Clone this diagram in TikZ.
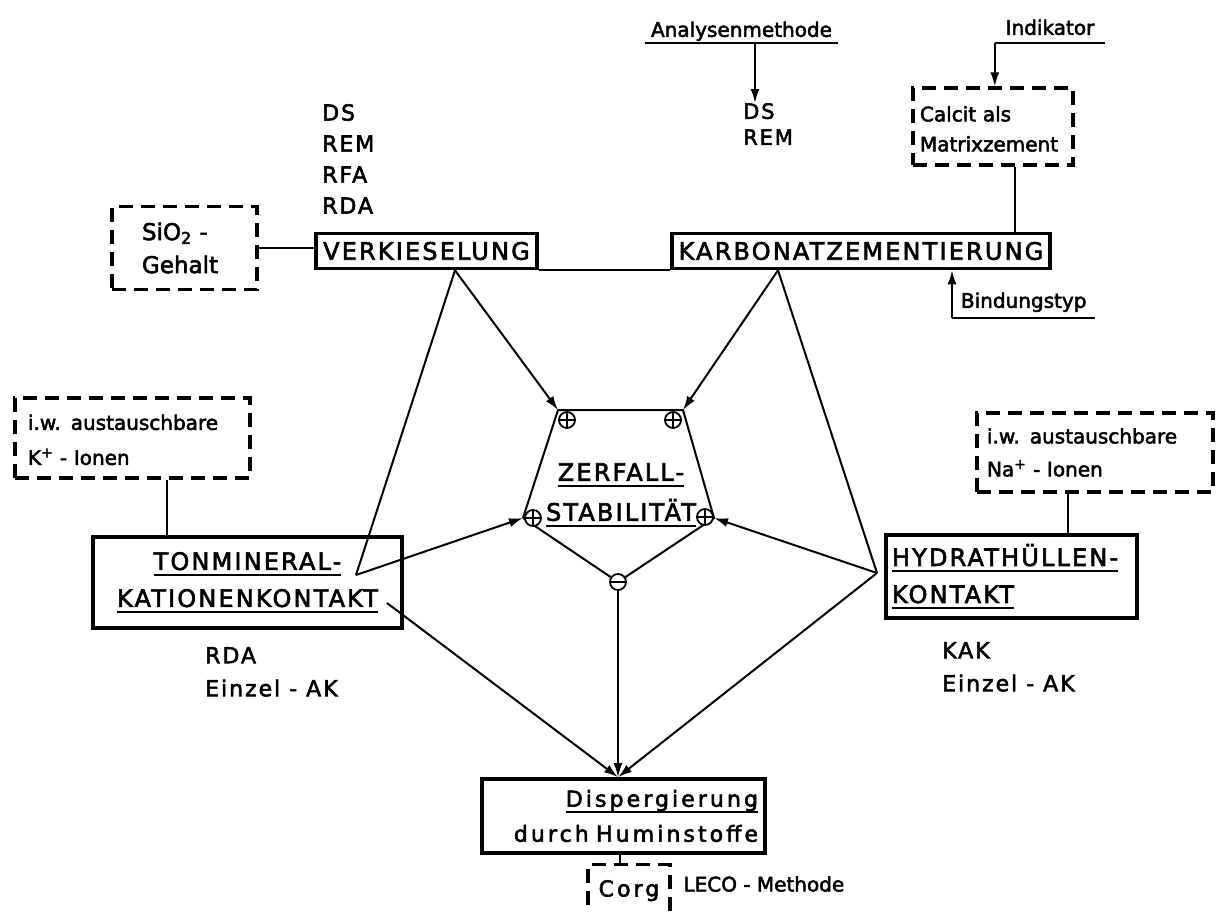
\documentclass[tikz,border=0pt]{standalone}
\usepackage{fontspec}
\usetikzlibrary{arrows.meta}
\newfontfamily\capf[LetterSpace=9,FakeBold=2.5]{DejaVu Sans}
\newfontfamily\lowf[FakeBold=2.5]{DejaVu Sans}
\newfontfamily\dispf[LetterSpace=14,FakeBold=2.5]{DejaVu Sans}
\newlength\myulw
\newcommand\myul[1]{\leavevmode\settowidth{\myulw}{#1}\rlap{#1}\rule[-6pt]{\myulw}{2pt}}
\begin{document}
\begin{tikzpicture}[x=1pt,y=-1pt,
  ln/.style={line width=2pt},
  arr/.style={line width=2pt,-{Latex[length=14pt,width=9pt]}},
  sbox/.style={draw,line width=3.6pt,inner sep=0pt},
  dsbox/.style={draw,line width=3.2pt,dash pattern=on 14pt off 8pt,inner sep=0pt},
  capt/.style={font=\capf\fontsize{24}{37}\selectfont},
  capm/.style={font=\capf\fontsize{22}{31}\selectfont},
  lowt/.style={font=\lowf\fontsize{20}{32}\selectfont},
  plusc/.style={circle,draw,line width=1.8pt,minimum size=16pt,inner sep=0pt,fill=white,
    path picture={\draw[line width=1.8pt] (path picture bounding box.west) -- (path picture bounding box.east)
      (path picture bounding box.north) -- (path picture bounding box.south);}},
  minusc/.style={circle,draw,line width=1.8pt,minimum size=16pt,inner sep=0pt,fill=white,
    path picture={\draw[line width=1.8pt] (path picture bounding box.west) -- (path picture bounding box.east);}}
]
\fill[white] (0,0) rectangle (1218,911);
\useasboundingbox (0,0) rectangle (1218,911);

% top labels
\node[lowt,inner sep=0pt,minimum width=193pt,text depth=6pt,anchor=south] (analy) at (741.5,43) {Analysenmethode};
\node[anchor=north west,align=left,inner sep=0pt,font=\capf\fontsize{21}{26}\selectfont] (ds2) at (743,103) {DS\\REM};
\node[lowt,inner sep=0pt,minimum width=110pt,text depth=8pt,anchor=south] (indik) at (1050,43) {Indikator};
\node[dsbox,minimum width=160pt,minimum height=77pt,text width=146pt,inner xsep=7pt,align=left,font=\lowf\fontsize{20}{30}\selectfont] (calc) at (993,126.5) {\rule{0pt}{20pt}Calcit als\\Matrixzement};

% main row
\node[capm,anchor=north west,align=left,inner sep=0pt] (dsl) at (322,104) {DS\\REM\\RFA\\RDA};
\node[sbox,capt,minimum width=221pt,minimum height=35pt] (verk) at (426.5,251) {VERKIESELUNG};
\node[sbox,capt,minimum width=378pt,minimum height=35pt] (karb) at (861,251) {KARBONATZEMENTIERUNG};
\node[dsbox,minimum width=145pt,minimum height=83pt,text width=85pt,inner xsep=30pt,align=left,font=\lowf\fontsize{23}{33}\selectfont] (sio) at (184.5,248) {SiO\textsubscript{2} -\\Gehalt};
\node[lowt,inner sep=0pt,minimum width=143pt,text depth=10pt,anchor=south west] (bind) at (952,318) {Bindungstyp};

% side boxes
\node[dsbox,minimum width=235pt,minimum height=80pt,text width=209pt,inner xsep=13pt,align=left,font=\lowf\fontsize{20}{35}\selectfont] (kbox) at (132.5,438) {\rule{0pt}{19pt}i.w. austauschbare\\K\textsuperscript{+} - Ionen};
\node[dsbox,minimum width=236pt,minimum height=79pt,text width=216pt,inner xsep=10pt,align=left,font=\lowf\fontsize{20}{33}\selectfont] (nbox) at (1095,452.5) {i.w. austauschbare\\Na\textsuperscript{+} - Ionen};
\node[sbox,capt,minimum width=309pt,minimum height=91pt,align=center] (ton) at (247.5,582.5) {\myul{TONMINERAL-}\\\myul{KATIONENKONTAKT}};
\node[sbox,capt,minimum width=251pt,minimum height=83pt,text width=239pt,inner xsep=6pt,align=left] (hyd) at (1011.5,576.5) {\myul{HYDRATHÜLLEN-}\\\myul{KONTAKT}};
\node[anchor=north west,align=left,inner sep=0pt,font=\capf\fontsize{22}{33}\selectfont] (rda) at (205,647) {RDA\\Einzel - AK};
\node[anchor=north west,align=left,inner sep=0pt,font=\capf\fontsize{22}{33}\selectfont] (kak) at (942,642) {KAK\\Einzel - AK};

% centre
\node[align=center,font=\capf\fontsize{24}{40}\selectfont] (zer) at (621,495) {\myul{ZERFALL-}\\\myul{STABILITÄT}};
\coordinate (pTL) at (558,410);
\coordinate (pTR) at (683,410);
\coordinate (pL) at (523,518);
\coordinate (pR) at (714,518);
\node[minusc] (mB) at (618,582) {};
\draw[ln] (pL) -- (pTL) -- (pTR) -- (pR) -- (mB) -- (pL);
\node[plusc] (c1) at (567,420) {};
\node[plusc] (c2) at (673,420) {};
\node[plusc] (c3) at (533,518) {};
\node[plusc] (c4) at (705,517) {};

% bottom
\node[sbox,font=\dispf\fontsize{22}{35}\selectfont,minimum width=283pt,minimum height=74pt,text width=269pt,inner xsep=7pt,align=right] (disp) at (623.5,816) {\myul{Dispergierung}\\durch Huminstoffe};
\node[dsbox,font=\dispf\fontsize{22}{30}\selectfont,minimum width=82pt,minimum height=52pt,anchor=north] (corg) at (629,863) {Corg};
\node[lowt,anchor=west] (leco) at (680,884) {LECO - Methode};

% connectors
\draw[ln] (analy.south west) -- (analy.south east);
\coordinate (aA) at ([xshift=13.5pt]analy.south);
\draw[arr] (aA) -- (aA |- ds2.north);
\draw[ln] (indik.south west) -- (indik.south east);
\draw[arr] (indik.south west) -- (indik.south west |- calc.north);
\coordinate (cK) at ([xshift=-37pt]karb.north east);
\draw[ln] (cK) -- (cK |- calc.south);
\draw[ln] (bind.south west) -- (bind.south east);
\draw[arr] (bind.south west) -- (bind.south west |- karb.south);
\draw[ln] (sio.east) -- (sio.east -| verk.west);
\draw[ln] (verk.south east) -- (karb.south west);
\coordinate (kT) at ([xshift=34.5pt]kbox.south);
\draw[ln] (kT) -- (kT |- ton.north);
\coordinate (nT) at ([xshift=-27pt]nbox.south);
\draw[ln] (nT) -- (nT |- hyd.north);
\coordinate (dC) at ([xshift=-9pt]corg.north);
\draw[ln] (dC) -- (dC |- disp.south);

\coordinate (vB) at ([xshift=28.5pt]verk.south);
\coordinate (kB) at ([xshift=-83pt]karb.south);
\coordinate (tP) at (356,575);
\coordinate (tQ) at (387,603);
\coordinate (hP) at (877,573);
\coordinate (dT) at (disp.north -| mB);
\draw[arr] (vB) -- (pTL);
\draw[arr] (kB) -- (pTR);
\draw[ln] (vB) -- (tP);
\draw[arr] (tP) -- (pL);
\draw[ln] (kB) -- (hP);
\draw[arr] (hP) -- (pR);
\draw[arr] (tQ) -- (dT);
\draw[arr] (hP) -- (dT);
\draw[arr] (mB) -- (dT);
\end{tikzpicture}
\end{document}
